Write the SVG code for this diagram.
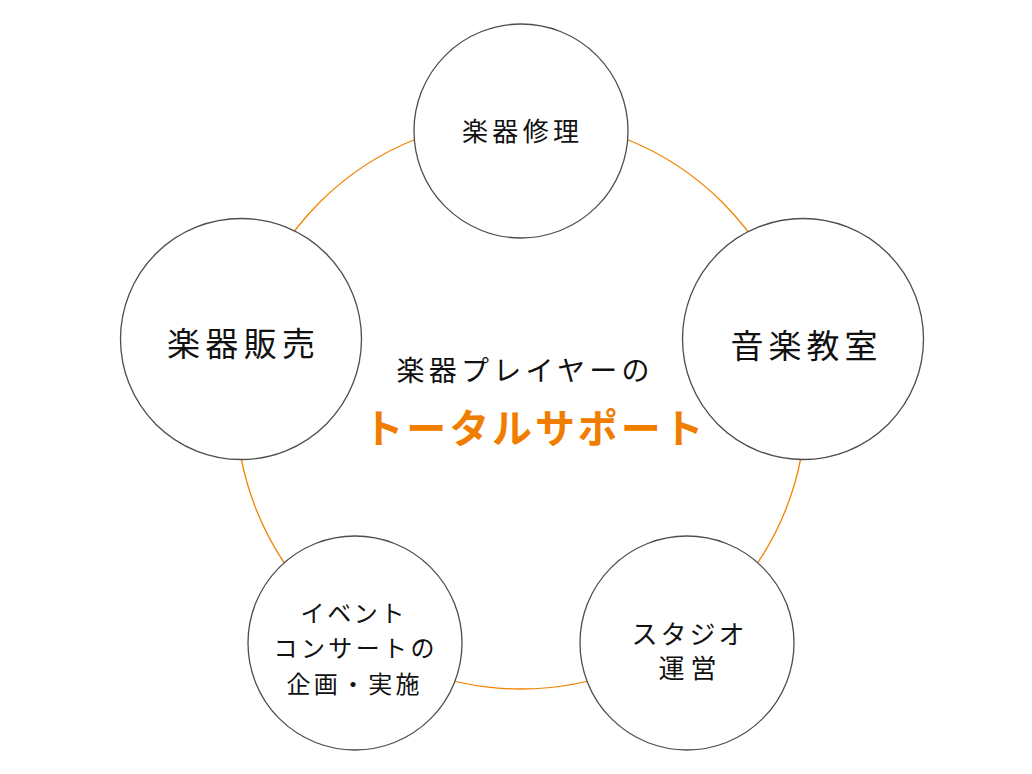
<svg xmlns="http://www.w3.org/2000/svg" width="1032" height="774" viewBox="0 0 1032 774">
<style>
.ring{fill:none;stroke:#F08300;stroke-width:1.3}
.node{fill:#ffffff;stroke:#4d4d4d;stroke-width:1.3}
.t{font-family:"Noto Sans CJK JP","Noto Sans CJK SC",sans-serif;fill:#111111;text-anchor:middle}
.s{font-size:26px}
.e{font-size:24px}
.b{font-size:33px}
.m{font-size:28px}
.o{font-size:40px;font-weight:bold;fill:#F07D00}
</style>
<rect width="1032" height="774" fill="#ffffff"/>
<g id="connectors">
<circle class="ring" cx="521" cy="404" r="285"/>
</g>
<g id="center">
<text class="t m" x="523" y="381" textLength="253" lengthAdjust="spacing">楽器プレイヤーの</text>
<text class="t o" x="533.5" y="443" textLength="340" lengthAdjust="spacing">トータルサポート</text>
</g>
<g id="n-repair">
<circle class="node" cx="521" cy="131" r="107"/>
<text class="t s" x="520.5" y="141" textLength="117" lengthAdjust="spacing">楽器修理</text>
</g>
<g id="n-sales">
<circle class="node" cx="241" cy="339" r="120.5"/>
<text class="t b" x="241" y="355.5" textLength="148" lengthAdjust="spacing">楽器販売</text>
</g>
<g id="n-school">
<circle class="node" cx="803" cy="339" r="120.5"/>
<text class="t b" x="804" y="357.5" textLength="147" lengthAdjust="spacing">音楽教室</text>
</g>
<g id="n-event">
<circle class="node" cx="355" cy="643" r="107"/>
<text class="t e" x="352.5" y="621.5" textLength="104" lengthAdjust="spacing">イベント</text>
<text class="t e" x="354" y="656.5" textLength="161" lengthAdjust="spacing">コンサートの</text>
<text class="t e" x="353" y="692.5" textLength="133" lengthAdjust="spacing">企画・実施</text>
</g>
<g id="n-studio">
<circle class="node" cx="687" cy="643" r="107"/>
<text class="t s" x="688" y="644" textLength="113" lengthAdjust="spacing">スタジオ</text>
<text class="t s" x="687.5" y="677.5" textLength="58" lengthAdjust="spacing">運営</text>
</g>
</svg>
